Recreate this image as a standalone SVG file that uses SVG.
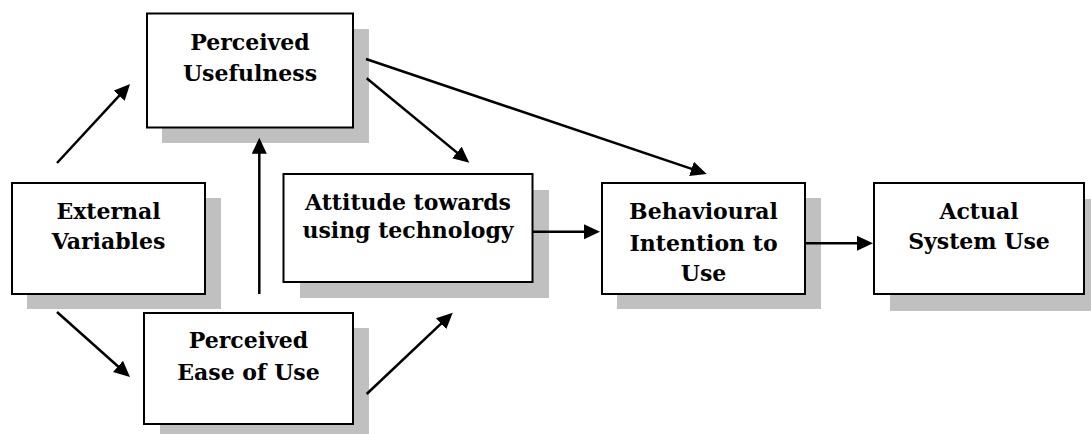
<svg xmlns="http://www.w3.org/2000/svg" width="1091" height="434" viewBox="0 0 1091 434">
<style>
.shadow{fill:#c0c0c0;stroke:none}
.box{fill:#ffffff;stroke:#000000;stroke-width:2}
.lbl{font-family:"DejaVu Serif","Liberation Serif",serif;font-weight:bold;font-size:22px;fill:#000000;text-anchor:middle}
.conn{stroke:#000000;stroke-width:2.5;fill:none;marker-end:url(#ah)}
</style>
<defs>
<marker id="ah" markerUnits="userSpaceOnUse" markerWidth="18" markerHeight="18" refX="8" refY="7.5" orient="auto">
<path d="M0,0 L16,7.5 L0,15 z" fill="#000000"/>
</marker>
</defs>
<rect width="1091" height="434" fill="#ffffff"/>
<g id="node-pu">
<rect class="shadow" x="162" y="29" width="207" height="114"/>
<rect class="box" x="147" y="13.5" width="206" height="114"/>
<text class="lbl" x="250" y="50">Perceived</text>
<text class="lbl" x="250" y="81">Usefulness</text>
</g>
<g id="node-ev">
<rect class="shadow" x="27" y="198" width="194" height="111"/>
<rect class="box" x="12" y="183" width="193" height="111"/>
<text class="lbl" x="108.5" y="219.3">External</text>
<text class="lbl" x="108.5" y="248.7">Variables</text>
</g>
<g id="node-peou">
<rect class="shadow" x="160" y="328" width="209" height="111"/>
<rect class="box" x="144" y="313" width="209" height="111"/>
<text class="lbl" x="248.5" y="348.3">Perceived</text>
<text class="lbl" x="248.5" y="380">Ease of Use</text>
</g>
<g id="node-att">
<rect class="shadow" x="300" y="190" width="249" height="108"/>
<rect class="box" x="283.5" y="174" width="249" height="108"/>
<text class="lbl" x="408" y="210">Attitude towards</text>
<text class="lbl" x="408" y="238.3">using technology</text>
</g>
<g id="node-bi">
<rect class="shadow" x="617" y="198" width="204" height="111"/>
<rect class="box" x="602" y="183" width="203" height="111"/>
<text class="lbl" x="703.5" y="219.3">Behavioural</text>
<text class="lbl" x="703.5" y="250.7">Intention to</text>
<text class="lbl" x="703.5" y="280.7">Use</text>
</g>
<g id="node-asu">
<rect class="shadow" x="890" y="199" width="201" height="112"/>
<rect class="box" x="874" y="183" width="210" height="111"/>
<text class="lbl" x="979" y="219.3">Actual</text>
<text class="lbl" x="979" y="249.3">System Use</text>
</g>
<g id="connectors">
<line class="conn" x1="57" y1="163" x2="124.6" y2="89.9"/>
<line class="conn" x1="57" y1="312" x2="124" y2="371.7"/>
<line class="conn" x1="259.3" y1="294" x2="259.3" y2="145.7"/>
<line class="conn" x1="366.7" y1="78.3" x2="463.1" y2="157.6"/>
<line class="conn" x1="366" y1="59" x2="699.1" y2="171.4"/>
<line class="conn" x1="366.7" y1="394" x2="446.9" y2="318.2"/>
<line class="conn" x1="533" y1="231.7" x2="592" y2="231.7"/>
<line class="conn" x1="805" y1="243.3" x2="865" y2="243.3"/>
</g>
</svg>
